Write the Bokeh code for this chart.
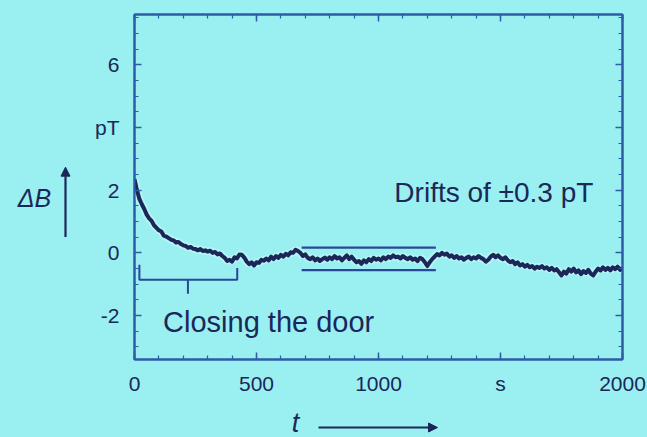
from bokeh.plotting import figure
from bokeh.models import Range1d, FixedTicker, LinearAxis, Label, Arrow, NormalHead
from bokeh.layouts import column, row
from bokeh.embed import file_html
from bokeh.resources import INLINE

# ---- data (delta B in pT, every 10 s from 0 to 2000 s)
time_s = list(range(0, 2001, 10))
delta_b = [
    2.35, 2.00, 1.72, 1.55, 1.40, 1.22, 1.10, 1.02, 0.88, 0.80,
    0.72, 0.68, 0.55, 0.52, 0.47, 0.42, 0.40, 0.33, 0.35, 0.28,
    0.24, 0.22, 0.16, 0.19, 0.13, 0.12, 0.08, 0.12, 0.06, 0.08,
    0.04, 0.07, 0.00, 0.03, -0.05, -0.02, -0.10, -0.16, -0.26, -0.22,
    -0.28, -0.14, -0.18, -0.05, -0.06, -0.15, -0.28, -0.36, -0.30, -0.40,
    -0.30, -0.32, -0.22, -0.25, -0.18, -0.24, -0.12, -0.20, -0.10, -0.16,
    -0.06, -0.12, -0.03, -0.08, 0.02, 0.00, 0.10, 0.06, 0.00, -0.10,
    -0.05, -0.16, -0.20, -0.14, -0.24, -0.18, -0.26, -0.20, -0.15, -0.22,
    -0.14, -0.20, -0.10, -0.18, -0.14, -0.24, -0.16, -0.08, -0.20, -0.12,
    -0.22, -0.30, -0.26, -0.35, -0.24, -0.30, -0.20, -0.26, -0.16, -0.22,
    -0.18, -0.24, -0.14, -0.20, -0.12, -0.16, -0.08, -0.14, -0.12, -0.18,
    -0.10, -0.16, -0.20, -0.14, -0.22, -0.18, -0.26, -0.16, -0.20, -0.30,
    -0.42, -0.30, -0.20, -0.12, -0.04, -0.08, 0.00, -0.06, -0.02, -0.12,
    -0.08, -0.16, -0.10, -0.18, -0.14, -0.22, -0.16, -0.12, -0.20, -0.14,
    -0.18, -0.10, -0.16, -0.20, -0.28, -0.22, -0.12, -0.06, -0.14, -0.08,
    -0.16, -0.20, -0.14, -0.24, -0.30, -0.26, -0.36, -0.30, -0.40, -0.36,
    -0.44, -0.38, -0.46, -0.42, -0.50, -0.44, -0.48, -0.42, -0.50, -0.46,
    -0.54, -0.48, -0.56, -0.52, -0.62, -0.72, -0.60, -0.66, -0.52, -0.60,
    -0.50, -0.62, -0.56, -0.68, -0.58, -0.64, -0.54, -0.66, -0.72, -0.60,
    -0.50, -0.56, -0.46, -0.54, -0.48, -0.56, -0.46, -0.52, -0.44, -0.54,
    -0.48,
]

x_ticks = [0, 500, 1000, 1500, 2000]
x_tick_labels = ["0", "500", "1000", "s", "2000"]
x_minor = list(range(0, 2001, 100))
y_ticks = [-2, 0, 2, 4, 6]
y_tick_labels = ["-2", "0", "2", "pT", "6"]
y_minor = [-3.0, -2.5, -1.5, -1.0, -0.5, 0.5, 1.0, 1.5, 2.5, 3.0, 3.5, 4.5, 5.0, 5.5, 6.5, 7.0, 7.5]

# drift band markers (t span and levels, pT)
drift_t = [685, 1235]
drift_levels = [0.17, -0.55]
# "closing the door" bracket (t of left end, middle, right end; levels)
bracket_t = [20, 219, 421]
bracket_top = [-0.38, -0.48]
bracket_base = -0.86
bracket_tip = -1.30

# ---- style
BG = "#9AEFF1"
NAVY = "#1B2758"
AXIS = "#2E5CA6"
LINE2 = "#2B4896"
FONT = "Liberation Sans"

W, H = 647, 437
LEFT_W = 90          # strip holding the "ΔB" quantity label
BOTTOM_H = 37        # strip holding the "t" quantity label

p = figure(width=W - LEFT_W, height=H - BOTTOM_H, output_backend="svg", toolbar_location=None,
           x_range=Range1d(0, 2000), y_range=Range1d(-3.4, 7.6),
           min_border_left=134 - LEFT_W, min_border_right=25, min_border_top=14,
           min_border_bottom=H - BOTTOM_H - 359,
           background_fill_color=BG, border_fill_color=BG, outline_line_color=AXIS,
           outline_line_width=2, styles={"background-color": BG})
p.grid.visible = False


def style_axis(ax, ticks, minor, labels, show, standoff):
    ax.ticker = FixedTicker(ticks=ticks, minor_ticks=minor)
    ax.axis_line_color = AXIS
    ax.axis_line_width = 2
    ax.major_tick_line_color = AXIS
    ax.minor_tick_line_color = AXIS
    ax.major_tick_line_width = 1.5
    ax.minor_tick_line_width = 1.2
    ax.major_tick_in = 7
    ax.major_tick_out = 0
    ax.minor_tick_in = 4
    ax.minor_tick_out = 0
    ax.major_label_text_font = FONT
    ax.major_label_text_font_size = "21px"
    ax.major_label_text_color = NAVY
    ax.major_label_standoff = standoff
    if show:
        ax.major_label_overrides = {tk: lb for tk, lb in zip(ticks, labels)}
    else:
        ax.major_label_text_alpha = 0
        ax.major_label_text_font_size = "1px"
        ax.major_label_standoff = 0


style_axis(p.xaxis[0], x_ticks, x_minor, x_tick_labels, True, 12)
style_axis(p.yaxis[0], y_ticks, y_minor, y_tick_labels, True, 15)
top_ax = LinearAxis()
right_ax = LinearAxis()
style_axis(top_ax, x_ticks, x_minor, x_tick_labels, False, 0)
style_axis(right_ax, y_ticks, y_minor, y_tick_labels, False, 0)
p.add_layout(top_ax, "above")
p.add_layout(right_ax, "right")

# curve with a light halo
p.line(time_s, delta_b, line_color="#CFFBFB", line_width=8, line_alpha=0.5)
p.line(time_s, delta_b, line_color=NAVY, line_width=4, line_join="round")

# drift band lines
for lvl in drift_levels:
    p.line(drift_t, [lvl, lvl], line_color=LINE2, line_width=2.2)

# bracket
p.line([bracket_t[0], bracket_t[0], bracket_t[2], bracket_t[2]],
       [bracket_top[0], bracket_base, bracket_base, bracket_top[1]],
       line_color=LINE2, line_width=2)
p.line([bracket_t[1], bracket_t[1]], [bracket_base, bracket_tip], line_color=LINE2, line_width=2)

# texts
p.add_layout(Label(x=117, y=-2.19, text="Closing the door", text_font=FONT,
                   text_font_size="29px", text_color=NAVY, text_align="left",
                   text_baseline="alphabetic"))
p.add_layout(Label(x=1065, y=1.94, text="Drifts of \u00b10.3 pT", text_font=FONT,
                   text_font_size="28px", text_color=NAVY, text_align="left",
                   text_baseline="alphabetic"))

# ---- left strip: "ΔB" with upward arrow (coordinates in strip pixels, y up)
left = figure(width=LEFT_W, height=H - BOTTOM_H, output_backend="svg", toolbar_location=None,
              x_range=Range1d(0, LEFT_W), y_range=Range1d(0, H - BOTTOM_H),
              x_axis_type=None, y_axis_type=None, min_border=0,
              background_fill_color=BG, border_fill_color=BG, outline_line_color=None,
              styles={"background-color": BG})
left.grid.visible = False
left.add_layout(Label(x=34, y=H - BOTTOM_H - 213, text="\u0394B", text_font=FONT,
                      text_font_style="italic", text_font_size="25px", text_color=NAVY,
                      text_align="center", text_baseline="middle"))
left.add_layout(Arrow(x_start=65, y_start=H - BOTTOM_H - 258, x_end=65, y_end=H - BOTTOM_H - 177,
                      line_color=NAVY, line_width=2.2,
                      end=NormalHead(size=9, fill_color=NAVY, line_color=NAVY)))

# ---- bottom strip: "t" with rightward arrow (coordinates in strip pixels, y up)
bottom = figure(width=W, height=BOTTOM_H, output_backend="svg", toolbar_location=None,
                x_range=Range1d(0, W), y_range=Range1d(0, BOTTOM_H),
                x_axis_type=None, y_axis_type=None, min_border=0,
                background_fill_color=BG, border_fill_color=BG, outline_line_color=None,
                styles={"background-color": BG})
bottom.grid.visible = False
bottom.add_layout(Label(x=295, y=H - 422, text="t", text_font=FONT, text_font_style="italic",
                        text_font_size="27px", text_color=NAVY, text_align="center",
                        text_baseline="middle"))
bottom.add_layout(Arrow(x_start=318, y_start=H - 427, x_end=437, y_end=H - 427,
                        line_color=NAVY, line_width=2.2,
                        end=NormalHead(size=9, fill_color=NAVY, line_color=NAVY)))

layout = column(row(left, p, spacing=0, styles={"background-color": BG}), bottom,
                spacing=0, styles={"background-color": BG})
open("out.html", "w").write(file_html(layout, INLINE))
